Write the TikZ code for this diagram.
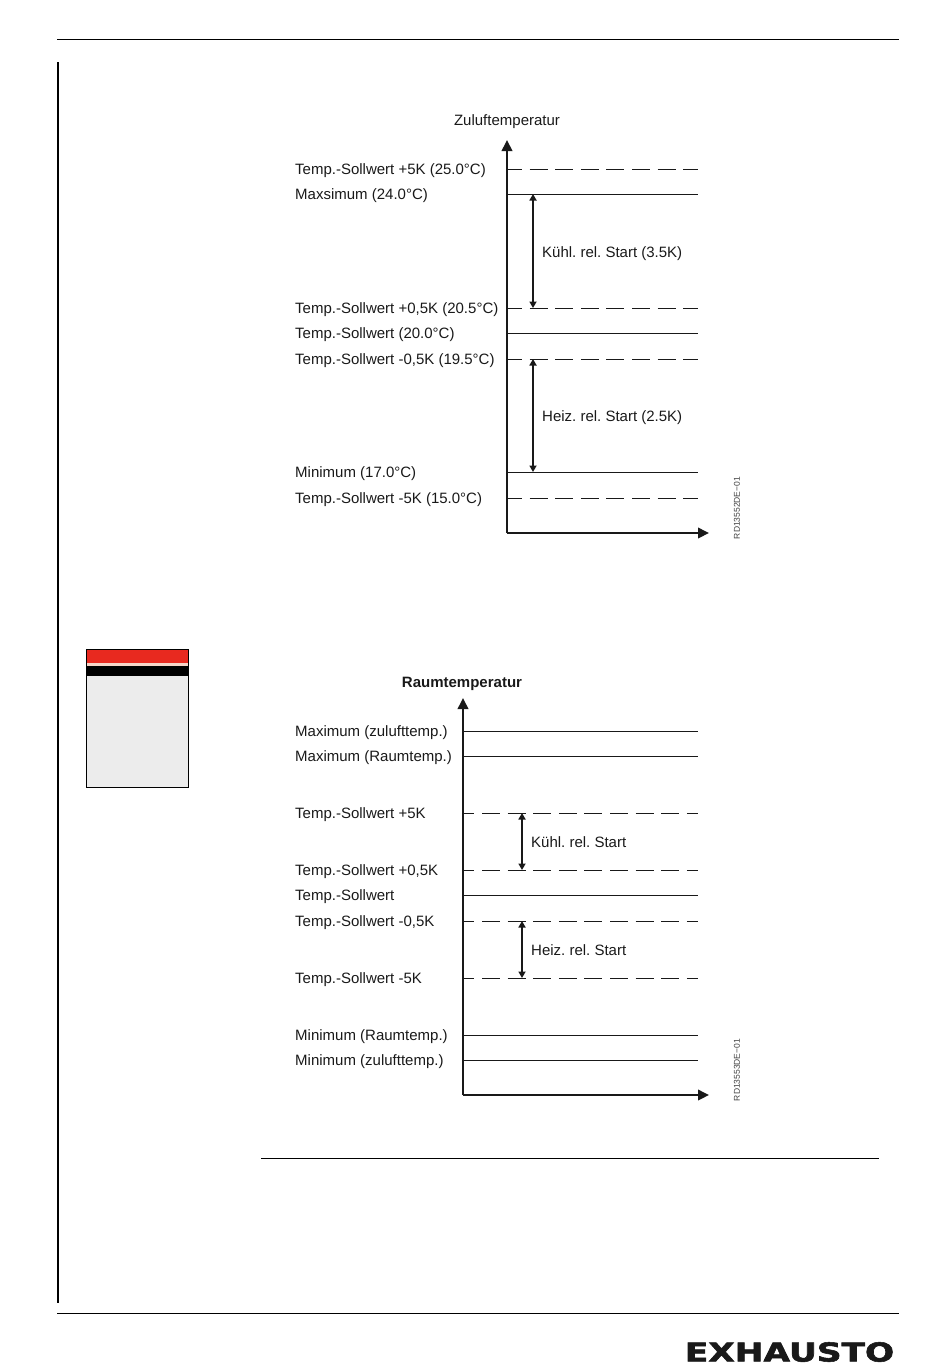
\documentclass[tikz,border=0pt]{standalone}
\usepackage{fontspec}
\usepackage{xcolor}
\setmainfont{Liberation Sans}
\newfontfamily\logofont[BoldFont={DejaVu Sans Bold}, BoldFeatures={FakeBold=2}]{DejaVu Sans}
\usetikzlibrary{arrows.meta, positioning, calc}
\definecolor{streifenrot}{HTML}{E8291F}
\definecolor{streifenhell}{HTML}{F6D5C8}
\definecolor{kastengrau}{HTML}{ECECEC}

\begin{document}
\begin{tikzpicture}[
    x=1pt, y=-1pt,
    font=\fontsize{15}{17}\selectfont\frenchspacing,
    beschr/.style={anchor=west, inner sep=0pt, text height=11pt, text depth=0pt, text=black!90},
    titel/.style={inner sep=0pt, text height=11pt, text depth=0pt, text=black!90},
    kennung/.style={rotate=90, inner sep=0pt, text=black!75, font=\fontsize{8.5}{10}\selectfont},
    rahmen/.style={line width=1pt, black},
    achse/.style={-{Triangle[length=11pt, width=10.5pt]}, line width=2pt, black!90},
    voll/.style={line width=1pt, black!90},
    strich/.style={line width=1pt, black!90},
    strichA/.style={strich, dash pattern=on 18pt off 7.6pt, dash phase=3pt},
    strichB/.style={strich, dash pattern=on 18pt off 7.6pt, dash phase=6.6pt},
    masz/.style={{Triangle[length=6.5pt, width=7pt]}-{Triangle[length=6.5pt, width=7pt]}, line width=1.7pt, black!90}
  ]
    \useasboundingbox (0,0) rectangle (950,1369);

    % Seitenrahmen
    \coordinate (kopfL) at (57,39);
    \coordinate (kopfR) at (899,39);
    \coordinate (fuszL) at (57,1313);
    \coordinate (fuszR) at (899,1313);
    \coordinate (randO) at (58,62);
    \coordinate (randU) at (58,1303);
    \coordinate (trennL) at (261,1158);
    \coordinate (trennR) at (879,1158);
    \draw[rahmen] (kopfL) -- (kopfR);
    \draw[rahmen] (fuszL) -- (fuszR);
    \draw[line width=2pt, black] (randO) -- (randU);
    \draw[rahmen] (trennL) -- (trennR);

    % Kasten links
    \fill[kastengrau] (86.5,649.5) rectangle (188.5,787.5);
    \fill[streifenrot] (86.5,649.5) rectangle (188.5,663);
    \fill[streifenhell] (86.5,663) rectangle (188.5,666);
    \fill[black] (86.5,666) rectangle (188.5,675.5);
    \node[draw=black, line width=1pt, minimum width=102pt, minimum height=138pt, inner sep=0pt] (kasten) at (137.5,718.5) {};

    % Zuluft
    \node[titel] (zuluft) at (507,120) {Zuluftemperatur};
    \coordinate (nullA) at (507,533);
    \coordinate (obenA) at (507,140);
    \coordinate (rechtsA) at (709,533);
    \coordinate (endeA) at (698,533);
    \coordinate (pfeilA) at (533,533);
    \node[beschr] (aplus) at (295,169) {Temp.-Sollwert +5K (25.0°C)};
    \node[beschr] (amax) at (295,194) {Maxsimum (24.0°C)};
    \node[beschr] (ahalb) at (295,308) {Temp.-Sollwert +0,5K (20.5°C)};
    \node[beschr] (asoll) at (295,333) {Temp.-Sollwert (20.0°C)};
    \node[beschr] (aminus) at (295,359) {Temp.-Sollwert -0,5K (19.5°C)};
    \node[beschr] (amin) at (295,472) {Minimum (17.0°C)};
    \node[beschr] (aunten) at (295,498) {Temp.-Sollwert -5K (15.0°C)};
    \node[beschr] (akuehl) at (542,252) {Kühl. rel. Start (3.5K)};
    \node[beschr] (aheiz) at (542,416) {Heiz. rel. Start (2.5K)};
    \node[kennung] (acode) at (737,508) {RD13552DE−01};

    \draw[strichA] (nullA |- aplus.west) -- (endeA |- aplus.west);
    \draw[voll] (nullA |- amax.west) -- (endeA |- amax.west);
    \draw[strichA] (nullA |- ahalb.west) -- (endeA |- ahalb.west);
    \draw[voll] (nullA |- asoll.west) -- (endeA |- asoll.west);
    \draw[strichA] (nullA |- aminus.west) -- (endeA |- aminus.west);
    \draw[voll] (nullA |- amin.west) -- (endeA |- amin.west);
    \draw[strichA] (nullA |- aunten.west) -- (endeA |- aunten.west);
    \draw[masz] (pfeilA |- amax.west) -- (pfeilA |- ahalb.west);
    \draw[masz] (pfeilA |- aminus.west) -- (pfeilA |- amin.west);
    \draw[achse] (nullA) -- (obenA);
    \draw[achse] (nullA) -- (rechtsA);

    % Raum
    \node[titel, font=\fontsize{15}{17}\selectfont\bfseries] (raum) at (462,682) {Raumtemperatur};
    \coordinate (nullB) at (463,1095);
    \coordinate (obenB) at (463,698);
    \coordinate (rechtsB) at (709,1095);
    \coordinate (endeB) at (698,1095);
    \coordinate (pfeilB) at (522,1095);
    \node[beschr] (bmaxz) at (295,731) {Maximum (zulufttemp.)};
    \node[beschr] (bmaxr) at (295,756) {Maximum (Raumtemp.)};
    \node[beschr] (bplus) at (295,813) {Temp.-Sollwert +5K};
    \node[beschr] (bhalb) at (295,870) {Temp.-Sollwert +0,5K};
    \node[beschr] (bsoll) at (295,895) {Temp.-Sollwert};
    \node[beschr] (bminus) at (295,921) {Temp.-Sollwert -0,5K};
    \node[beschr] (bunten) at (295,978) {Temp.-Sollwert -5K};
    \node[beschr] (bminr) at (295,1035) {Minimum (Raumtemp.)};
    \node[beschr] (bminz) at (295,1060) {Minimum (zulufttemp.)};
    \node[beschr] (bkuehl) at (531,842) {Kühl. rel. Start};
    \node[beschr] (bheiz) at (531,950) {Heiz. rel. Start};
    \node[kennung] (bcode) at (737,1070) {RD13553DE−01};

    \draw[voll] (nullB |- bmaxz.west) -- (endeB |- bmaxz.west);
    \draw[voll] (nullB |- bmaxr.west) -- (endeB |- bmaxr.west);
    \draw[strichB] (nullB |- bplus.west) -- (endeB |- bplus.west);
    \draw[strichB] (nullB |- bhalb.west) -- (endeB |- bhalb.west);
    \draw[voll] (nullB |- bsoll.west) -- (endeB |- bsoll.west);
    \draw[strichB] (nullB |- bminus.west) -- (endeB |- bminus.west);
    \draw[strichB] (nullB |- bunten.west) -- (endeB |- bunten.west);
    \draw[voll] (nullB |- bminr.west) -- (endeB |- bminr.west);
    \draw[voll] (nullB |- bminz.west) -- (endeB |- bminz.west);
    \draw[masz] (pfeilB |- bplus.west) -- (pfeilB |- bhalb.west);
    \draw[masz] (pfeilB |- bminus.west) -- (pfeilB |- bunten.west);
    \draw[achse] (nullB) -- (obenB);
    \draw[achse] (nullB) -- (rechtsB);

    % Logo
    \node[inner sep=0pt, xscale=1.32, text=black!90, font=\logofont\fontsize{26}{28}\selectfont\bfseries] (logo) at (789.5,1352) {EXHAUSTO};
  \end{tikzpicture}
\end{document}
